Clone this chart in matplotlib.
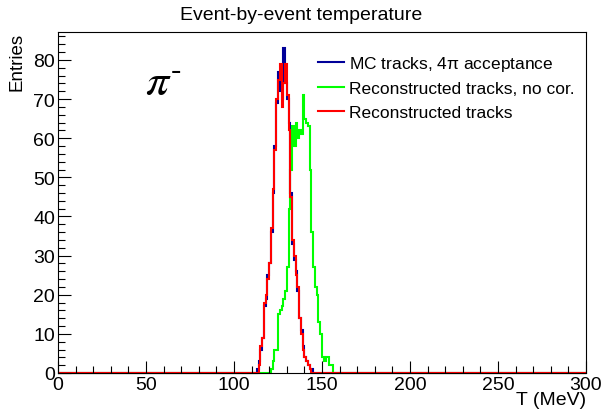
import numpy as np
import matplotlib
matplotlib.use("Agg")
import matplotlib.pyplot as plt
from matplotlib.ticker import MultipleLocator

plt.rcParams['font.family'] = ['Liberation Sans', 'DejaVu Sans']
plt.rcParams['mathtext.fontset'] = 'custom'
plt.rcParams['mathtext.rm'] = 'Liberation Sans'
plt.rcParams['mathtext.it'] = 'Liberation Sans'

# 1 MeV bins from 0 to 300, only non-empty region listed
mc_first = 113
mc_counts = [1, 3, 6, 9, 17, 19, 25, 28, 36, 46, 58, 69, 77, 72, 70, 83, 74,
             70, 64, 46, 33, 29, 26, 21, 14, 11, 7, 4, 3, 2, 1, 1]
nocor_first = 121
nocor_counts = [1, 3, 6, 6, 15, 16, 17, 19, 21, 27, 42, 52, 63, 58, 64, 60, 62,
                61, 71, 65, 64, 63, 52, 36, 27, 22, 20, 13, 10, 4, 3, 4, 4, 2, 2]
reco_first = 114
reco_counts = [2, 7, 9, 18, 20, 24, 28, 37, 47, 57, 70, 75, 79, 68, 74, 79, 71,
               62, 45, 34, 30, 25, 22, 14, 10, 6, 4, 3, 2, 1]

labels = ['MC tracks, 4$\\pi$ acceptance', 'Reconstructed tracks, no cor.',
          'Reconstructed tracks']
colors = ['#000099', '#00ff00', '#ff0000']

edges = np.arange(0, 301, 1)


def full_hist(first, counts):
    h = np.zeros(len(edges) - 1)
    h[first:first + len(counts)] = counts
    return h


fig = plt.figure(figsize=(6.02, 4.14), dpi=100)
ax = fig.add_axes([58 / 602, 1 - 374 / 414, 528 / 602, 341 / 414])

series = [(mc_first, mc_counts), (nocor_first, nocor_counts), (reco_first, reco_counts)]
handles = []
for (first, counts), col, lab in zip(series, colors, labels):
    h = full_hist(first, counts)
    ax.stairs(h, edges, color=col, linewidth=1.5, clip_on=False)
    ln, = ax.plot([], [], color=col, linewidth=1.5, label=lab)
    handles.append(ln)

ymax = 1.05 * max(mc_counts)
ax.set_xlim(0, 300)
ax.set_ylim(0, ymax)

ax.xaxis.set_major_locator(MultipleLocator(50))
ax.xaxis.set_minor_locator(MultipleLocator(10))
ax.yaxis.set_major_locator(MultipleLocator(10))
ax.yaxis.set_minor_locator(MultipleLocator(2))
ax.tick_params(which='both', direction='in', labelsize=14, top=False, right=False)
ax.tick_params(which='major', length=9, width=0.8)
ax.tick_params(which='minor', length=5, width=0.8)
ax.tick_params(axis='x', pad=2)
ax.tick_params(axis='y', pad=2)
for sp in ax.spines.values():
    sp.set_linewidth(0.8)

ax.set_xlabel('T (MeV)', fontsize=14, loc='right', labelpad=-1)
ax.set_ylabel('Entries', fontsize=13.5, loc='top', labelpad=6)

fig.text(0.5, 1 - 15 / 414, 'Event-by-event temperature', fontsize=14,
         ha='center', va='center')

# particle label: pi with a small raised hyphen
ax.text(0.165, 0.85, r'$\pi^{\text{-}}$', transform=ax.transAxes, fontsize=33,
        ha='left', va='center', math_fontfamily='stix')

ax.legend(handles=handles, loc='upper left', bbox_to_anchor=(0.48, 0.957),
          frameon=False, fontsize=12.5, handlelength=1.45, handletextpad=0.3,
          labelspacing=0.5, borderaxespad=0)

fig.savefig('out.png', dpi=100)
